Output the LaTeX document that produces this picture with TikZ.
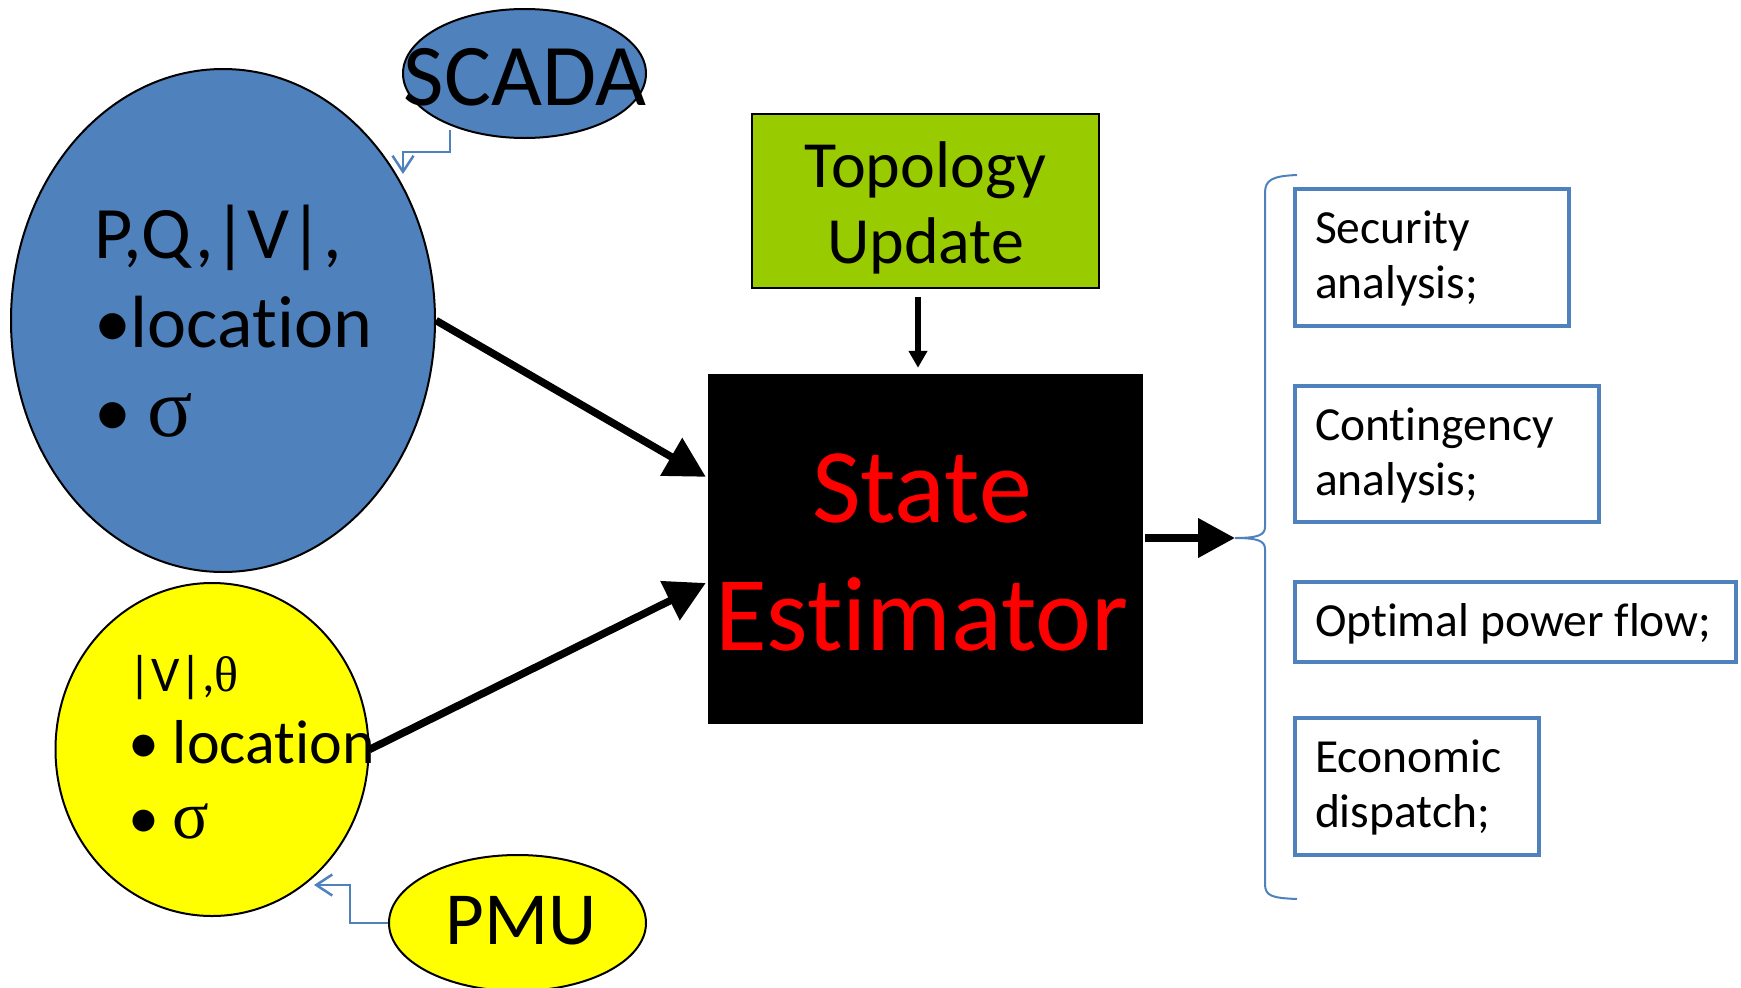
\documentclass[tikz,border=0pt]{standalone}
\usepackage{fontspec}
\setmainfont{Carlito}[Ligatures={NoCommon,NoContextual}]
\newfontfamily\sigfont{Liberation Serif}
\usetikzlibrary{shapes.geometric,arrows.meta,calc}
\definecolor{scblue}{HTML}{4F81BD}
\definecolor{topogreen}{HTML}{99CC00}
\definecolor{pmuyellow}{HTML}{FFFF00}
\definecolor{estred}{HTML}{FF0000}
\newcommand\mlines[2][l]{\begin{tabular}[t]{@{}#1@{}}#2\end{tabular}}
\newcommand\fs[2]{\fontsize{#1}{#2}\selectfont}
\begin{document}
\begin{tikzpicture}[x=1pt,y=-1pt,
  ell/.style={ellipse,draw=black,line width=2pt,inner sep=0pt},
  outbox/.style={rectangle,draw=scblue,line width=4pt,inner sep=0pt},
  txt/.style={inner sep=0pt,outer sep=0pt},
  bigarrow/.style={line width=7.5pt,-{Triangle[length=40pt,width=42pt]}},
  feed/.style={draw=scblue,line width=2.5pt,-{Straight Barb[length=16pt,width=21pt,line width=2.5pt]}}
]
\useasboundingbox (0,0) rectangle (1741,988);

% ellipses
\node[ell,fill=scblue,minimum width=424pt,minimum height=503pt] (scadaData) at (223,320.5) {};
\node[ell,fill=pmuyellow,minimum width=313pt,minimum height=333pt] (pmuData) at (212,749.5) {};
\node[ell,fill=scblue,minimum width=243pt,minimum height=129pt] (scada) at (524.5,73.5) {};
\node[ell,fill=pmuyellow,minimum width=257pt,minimum height=136pt] (pmu) at (517.5,923) {};

\node[txt,anchor=base] (scadaText) at (525,105) {\fs{88}{100}SCADA};
\node[txt,anchor=base] (pmuText) at (521,944) {\fs{75}{90}PMU};

% text in the big ellipses
\node[txt,anchor=base west] (scadaList) at (94,258)
  {\fs{74}{89}\mlines{P,Q,|V|,\\•location\\• {\sigfont\fs{84}{89}σ}}};
\node[txt,anchor=base west] (pmuL1) at (128,691) {\fs{50}{60}|V|,{\sigfont θ}};
\node[txt,anchor=base west] (pmuL2) at (128,763) {\fs{62}{70}• location};
\node[txt,anchor=base west] (pmuL3) at (128,838) {\fs{62}{70}• {\sigfont\fs{68}{70}σ}};

% topology and estimator
\node[rectangle,draw=black,line width=1.5pt,fill=topogreen,minimum width=347pt,minimum height=174pt,inner sep=0pt] (topo) at (925.5,201) {};
\node[txt,anchor=base] (topoText) at (925.5,187) {\fs{66}{76}\mlines[c]{Topology\\Update}};
\node[rectangle,fill=black,minimum width=435pt,minimum height=350pt,inner sep=0pt] (state) at (925.5,549) {};
\node[txt,anchor=base,text=estred] (stateText) at (922,522) {\fs{106}{128}\mlines[c]{State\\Estimator}};

% output boxes
\node[outbox,minimum width=274pt,minimum height=137pt] (sec) at (1432,257.5) {};
\node[outbox,minimum width=304pt,minimum height=136pt] (cont) at (1447,454) {};
\node[outbox,minimum width=441pt,minimum height=80pt] (opf) at (1515.5,622) {};
\node[outbox,minimum width=244pt,minimum height=137pt] (ed) at (1417,786.5) {};
\node[txt,anchor=base west] (secText) at ($(sec.north west)+(22,56)$) {\fs{47.5}{55}\mlines{Security\\analysis;}};
\node[txt,anchor=base west] (contText) at ($(cont.north west)+(22,56)$) {\fs{47.5}{55}\mlines{Contingency\\analysis;}};
\node[txt,anchor=base west] (opfText) at ($(opf.north west)+(22,56)$) {\fs{47.5}{55}Optimal power flow;};
\node[txt,anchor=base west] (edText) at ($(ed.north west)+(22,56)$) {\fs{47.5}{55}\mlines{Economic\\dispatch;}};

% brace
\coordinate (bracetip) at (1235,538);
\draw[scblue,line width=2pt] (1297,175) .. controls (1272,176) and (1265,180) .. (1265,193)
  -- (1265,527) .. controls (1265,535) and (1258,538) .. (bracetip)
  .. controls (1258,538) and (1265,541) .. (1265,549)
  -- (1265,884) .. controls (1265,896) and (1272,898) .. (1297,899);

% connectors
\draw[bigarrow] (scadaData.east) -- ($(state.north west)!0.294!(state.south west)+(-2,0)$);
\draw[bigarrow] (pmuData.east) -- ($(state.north west)!0.597!(state.south west)+(-2,0)$);
\draw[line width=7.5pt,-{Triangle[length=37pt,width=38pt]}] ($(state.east |- bracetip)+(2,0)$) -- (bracetip);
\draw[line width=6pt,-{Triangle[length=17pt,width=18pt]}] ($(topo.south)+(-7.5,8)$) -- ($(state.north)+(-7.5,-6)$);

\coordinate (scadaOut) at (450,130);
\coordinate (scadaIn) at (403,174);
\draw[feed] (scadaOut) |- ($(scadaIn)+(0,-22)$) -- (scadaIn);
\coordinate (pmuIn) at (314,885);
\draw[feed] (pmu.west) -- ++(-38,0) |- (pmuIn);
\end{tikzpicture}
\end{document}
